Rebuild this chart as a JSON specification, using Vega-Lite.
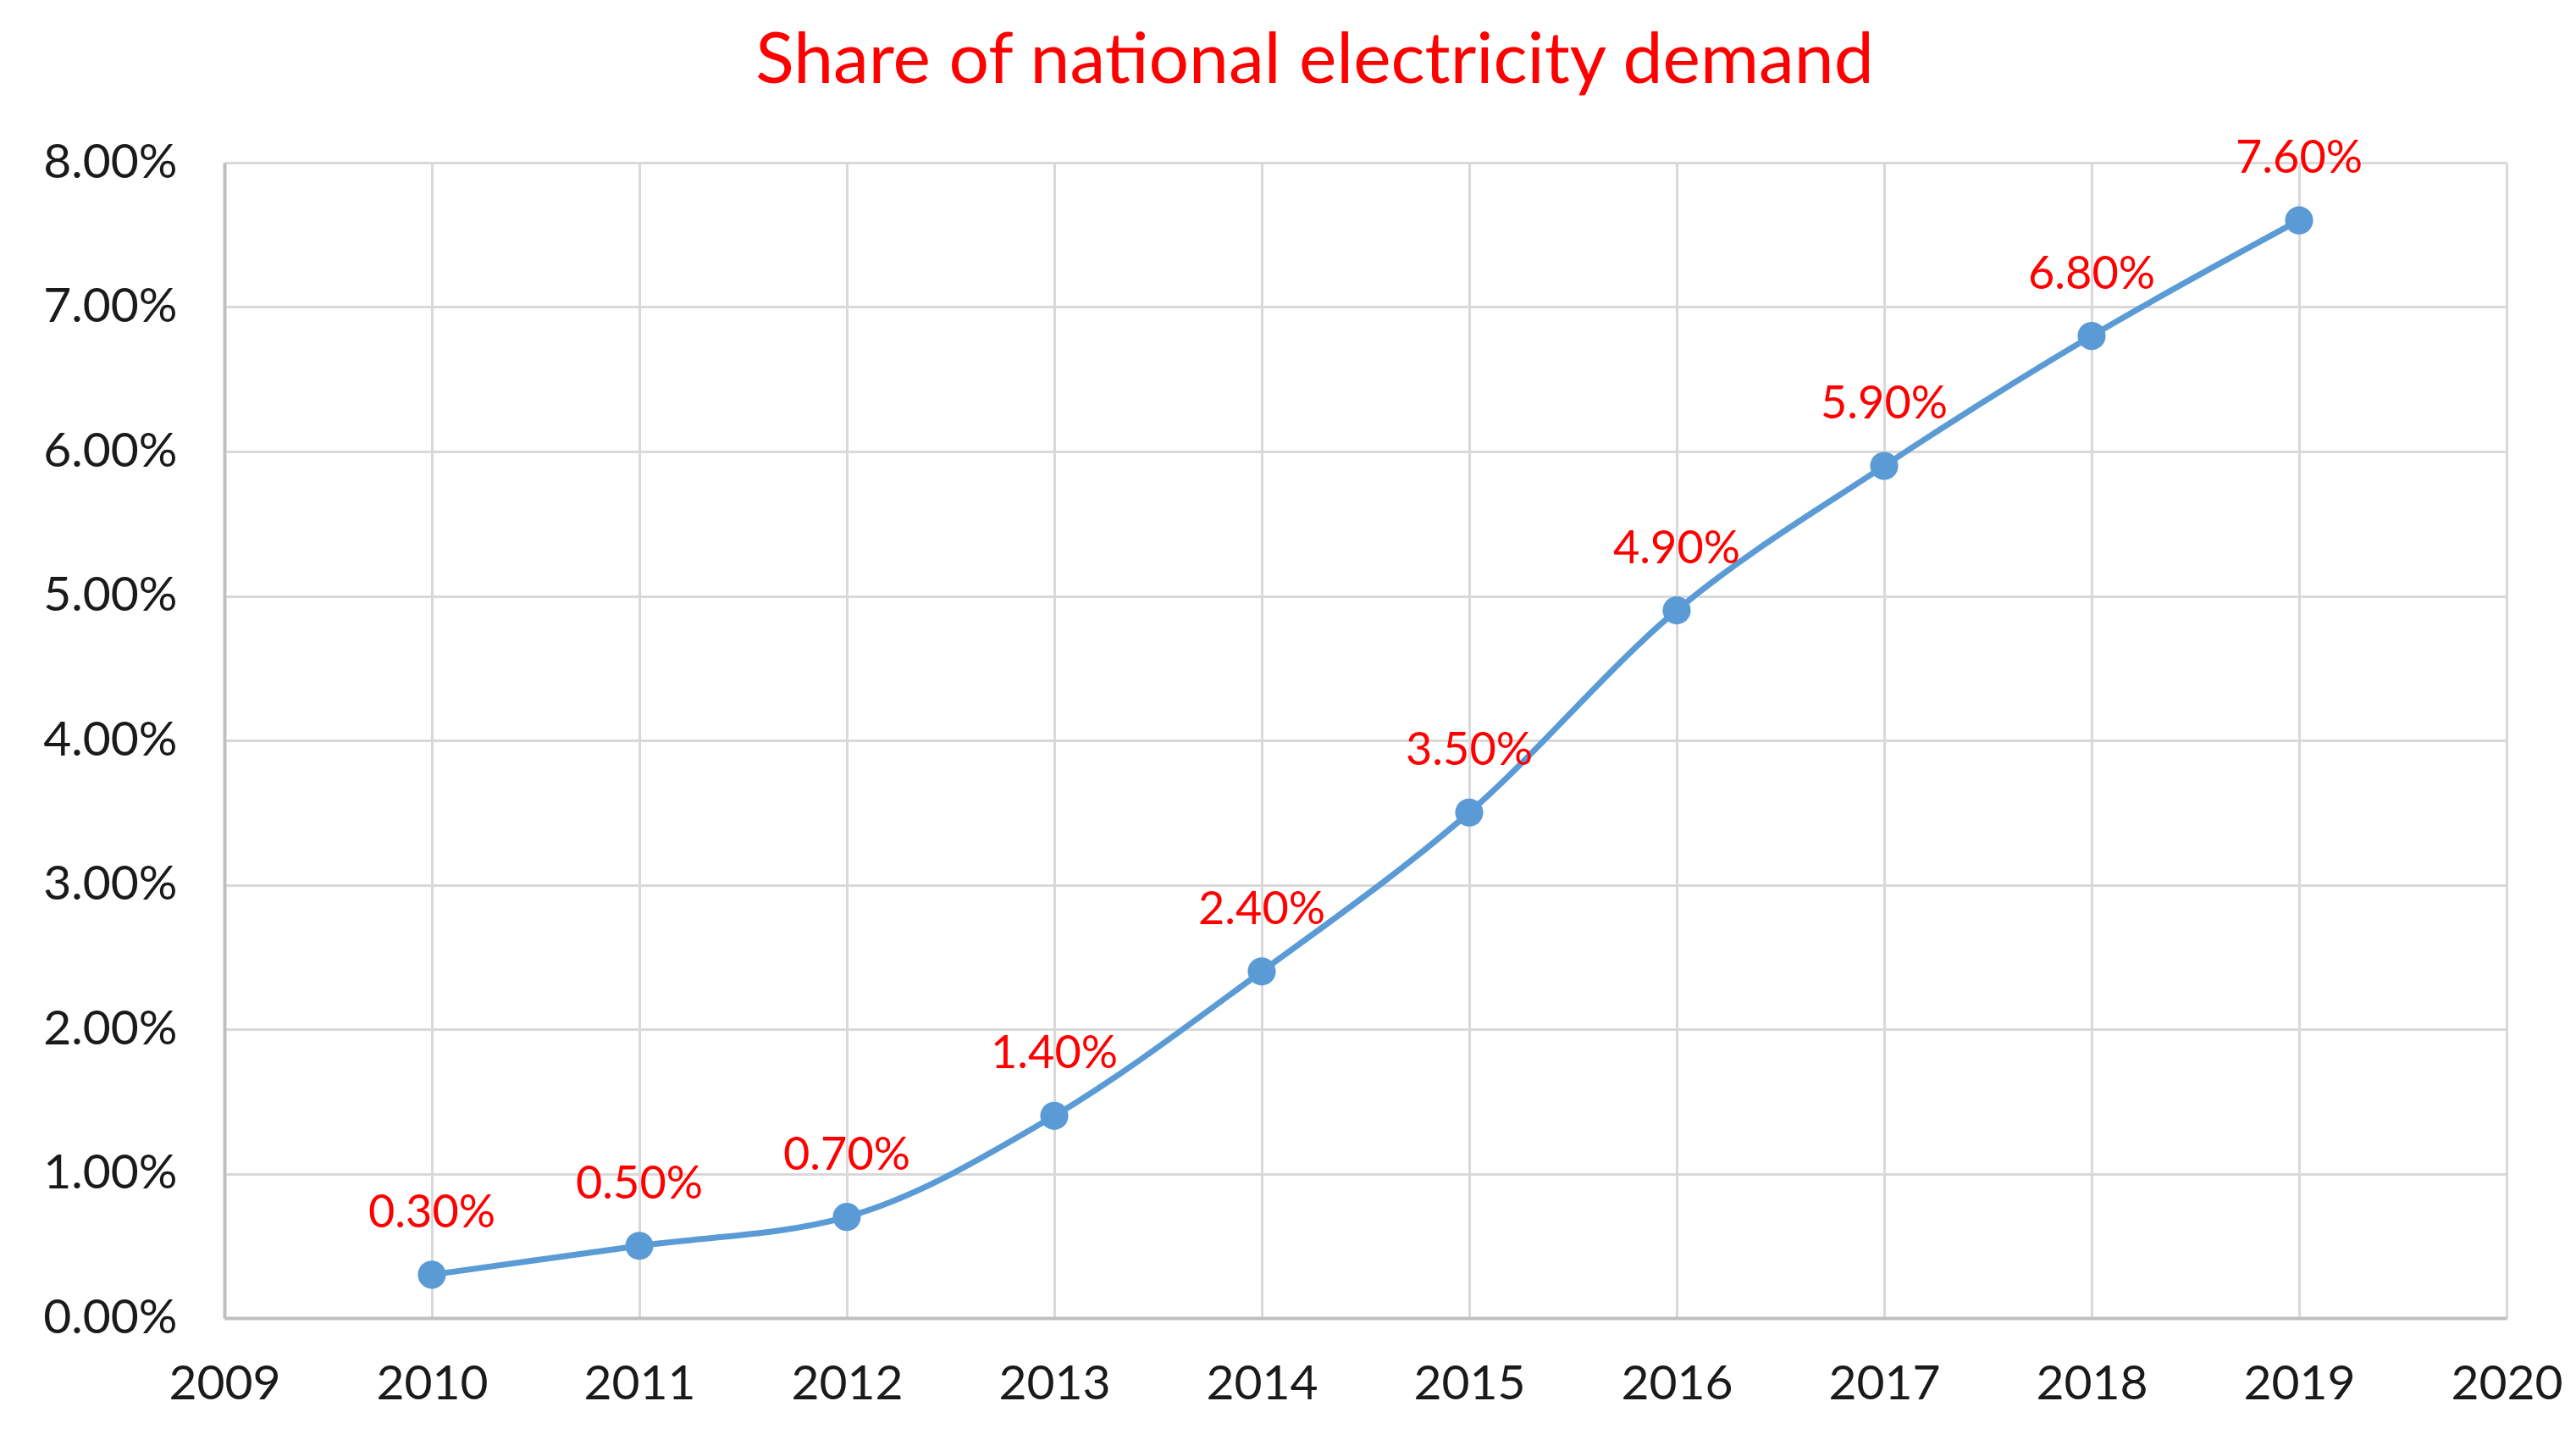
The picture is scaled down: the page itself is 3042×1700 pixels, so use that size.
{
  "$schema": "https://vega.github.io/schema/vega-lite/v6.json",
  "width": 2695,
  "height": 1364,
  "autosize": {"type": "none"},
  "padding": {"left": 265, "top": 192, "right": 82, "bottom": 144},
  "background": "white",
  "title": {
    "text": "Share of national electricity demand",
    "color": "#FF0000",
    "font": "Lato",
    "fontSize": 84,
    "fontWeight": "normal",
    "anchor": "middle",
    "dx": -60,
    "baseline": "alphabetic",
    "offset": -21
  },
  "config": {
    "view": {"stroke": null},
    "axis": {
      "labelFont": "Lato",
      "labelFontSize": 57,
      "labelColor": "#1a1a1a",
      "gridColor": "#D9D9D9",
      "gridWidth": 3,
      "domainColor": "#BFBFBF",
      "domainWidth": 4,
      "ticks": false,
      "title": null
    }
  },
  "data": {
    "values": [
      {"year": 2010, "share": 0.003},
      {"year": 2011, "share": 0.005},
      {"year": 2012, "share": 0.007},
      {"year": 2013, "share": 0.014},
      {"year": 2014, "share": 0.024},
      {"year": 2015, "share": 0.035},
      {"year": 2016, "share": 0.049},
      {"year": 2017, "share": 0.059},
      {"year": 2018, "share": 0.068},
      {"year": 2019, "share": 0.076}
    ]
  },
  "encoding": {
    "x": {
      "field": "year",
      "type": "quantitative",
      "scale": {"domain": [2009, 2020], "nice": false, "zero": false},
      "axis": {
        "values": [2009, 2010, 2011, 2012, 2013, 2014, 2015, 2016, 2017, 2018, 2019, 2020],
        "format": "d",
        "labelFlush": false,
        "labelOverlap": false,
        "labelPadding": 50
      }
    },
    "y": {
      "field": "share",
      "type": "quantitative",
      "scale": {"domain": [0, 0.08], "nice": false},
      "axis": {
        "values": [0, 0.01, 0.02, 0.03, 0.04, 0.05, 0.06, 0.07, 0.08],
        "format": ".2%",
        "labelPadding": 56
      }
    }
  },
  "layer": [
    {
      "mark": {"type": "line", "interpolate": "monotone", "color": "#5B9BD5", "strokeWidth": 7}
    },
    {
      "mark": {"type": "point", "filled": true, "opacity": 1, "color": "#5B9BD5", "size": 1100}
    },
    {
      "mark": {"type": "text", "color": "#FF0000", "font": "Lato", "fontSize": 54, "baseline": "alphabetic", "dy": -56},
      "encoding": {
        "text": {"field": "share", "type": "quantitative", "format": ".2%"}
      }
    }
  ]
}
